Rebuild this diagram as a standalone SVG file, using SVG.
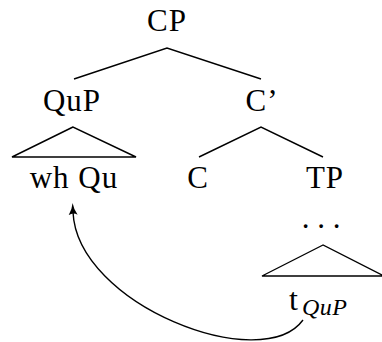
<svg xmlns="http://www.w3.org/2000/svg" width="382" height="342" viewBox="0 0 382 342">
<defs>
<style>
.t{font-family:"Liberation Serif","Times New Roman",serif;font-size:31px;letter-spacing:1px;fill:#000;text-anchor:middle}
.s{font-family:"Liberation Serif","Times New Roman",serif;font-size:24px;letter-spacing:0.5px;font-style:italic;fill:#000}
.e{fill:none;stroke:#000;stroke-width:1.4;stroke-linejoin:miter}
</style>
<marker id="ah" markerUnits="userSpaceOnUse" viewBox="0 0 12 10" refX="3" refY="5" markerWidth="12" markerHeight="10" orient="auto">
<path d="M0,0.5 Q5,4 12,5 Q5,6 0,9.5 Q3,5 0,0.5 z" fill="#000"/>
</marker>
</defs>
<rect width="382" height="342" fill="#fff"/>
<g id="connectors">
<polyline class="e" points="74,79 167,48 261,79"/>
<polygon class="e" points="73,127 12,157 136,157"/>
<polyline class="e" points="199,157 261,127 323,157"/>
<polygon class="e" points="323,245 262,276 384,276"/>
<path class="e" d="M303,320 C262,376 77,305 73,212" marker-end="url(#ah)"/>
</g>
<g id="CP"><text class="t" x="167" y="31">CP</text></g>
<g id="QuP"><text class="t" x="72" y="111">QuP</text></g>
<g id="Cbar"><text class="t" x="262" y="111">C’</text></g>
<g id="whQu"><text class="t" x="74" y="188">wh Qu</text></g>
<g id="C"><text class="t" x="198" y="188">C</text></g>
<g id="TP"><text class="t" x="325" y="188">TP</text></g>
<g id="dots"><text class="t" x="321" y="228" style="letter-spacing:0">. . .</text></g>
<g id="trace"><text class="t" x="294" y="310" style="font-size:32px">t</text><text class="s" x="302" y="315">QuP</text></g>
</svg>
